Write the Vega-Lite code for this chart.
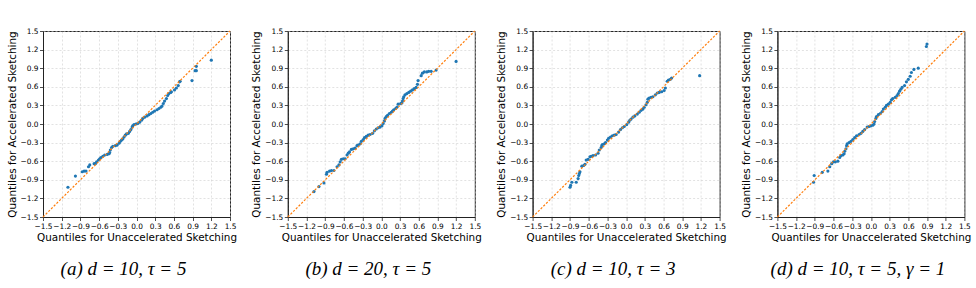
{
  "$schema": "https://vega.github.io/schema/vega-lite/v6.json",
  "background": "white",
  "padding": {"left": 6, "top": 26, "right": 0, "bottom": 0},
  "bounds": "flush",
  "spacing": 57.8,
  "datasets": {
    "diag": [{"x": -1.5, "y": -1.5}, {"x": 1.5, "y": 1.5}],
    "qq": [
      {"panel": "a", "x": -1.10, "y": -1.02}, {"panel": "a", "x": -0.98, "y": -0.84}, {"panel": "a", "x": -0.87, "y": -0.77},
      {"panel": "a", "x": -0.84, "y": -0.76}, {"panel": "a", "x": -0.81, "y": -0.76}, {"panel": "a", "x": -0.77, "y": -0.69},
      {"panel": "a", "x": -0.75, "y": -0.66}, {"panel": "a", "x": -0.68, "y": -0.64}, {"panel": "a", "x": -0.66, "y": -0.64},
      {"panel": "a", "x": -0.64, "y": -0.61}, {"panel": "a", "x": -0.61, "y": -0.58}, {"panel": "a", "x": -0.59, "y": -0.56},
      {"panel": "a", "x": -0.57, "y": -0.54}, {"panel": "a", "x": -0.54, "y": -0.52}, {"panel": "a", "x": -0.51, "y": -0.50},
      {"panel": "a", "x": -0.47, "y": -0.49}, {"panel": "a", "x": -0.44, "y": -0.48}, {"panel": "a", "x": -0.43, "y": -0.46},
      {"panel": "a", "x": -0.42, "y": -0.42}, {"panel": "a", "x": -0.40, "y": -0.38}, {"panel": "a", "x": -0.38, "y": -0.36},
      {"panel": "a", "x": -0.34, "y": -0.35}, {"panel": "a", "x": -0.31, "y": -0.34}, {"panel": "a", "x": -0.28, "y": -0.31},
      {"panel": "a", "x": -0.26, "y": -0.28}, {"panel": "a", "x": -0.24, "y": -0.26}, {"panel": "a", "x": -0.22, "y": -0.24},
      {"panel": "a", "x": -0.20, "y": -0.21}, {"panel": "a", "x": -0.18, "y": -0.18}, {"panel": "a", "x": -0.16, "y": -0.16},
      {"panel": "a", "x": -0.13, "y": -0.15}, {"panel": "a", "x": -0.11, "y": -0.12}, {"panel": "a", "x": -0.09, "y": -0.09},
      {"panel": "a", "x": -0.07, "y": -0.05}, {"panel": "a", "x": -0.06, "y": -0.03}, {"panel": "a", "x": -0.04, "y": -0.01},
      {"panel": "a", "x": -0.01, "y": 0.00}, {"panel": "a", "x": 0.02, "y": 0.01}, {"panel": "a", "x": 0.05, "y": 0.03},
      {"panel": "a", "x": 0.08, "y": 0.06}, {"panel": "a", "x": 0.10, "y": 0.09}, {"panel": "a", "x": 0.13, "y": 0.11},
      {"panel": "a", "x": 0.17, "y": 0.13}, {"panel": "a", "x": 0.20, "y": 0.15}, {"panel": "a", "x": 0.23, "y": 0.17},
      {"panel": "a", "x": 0.26, "y": 0.19}, {"panel": "a", "x": 0.29, "y": 0.21}, {"panel": "a", "x": 0.33, "y": 0.23},
      {"panel": "a", "x": 0.36, "y": 0.25}, {"panel": "a", "x": 0.39, "y": 0.27}, {"panel": "a", "x": 0.41, "y": 0.29},
      {"panel": "a", "x": 0.43, "y": 0.33}, {"panel": "a", "x": 0.45, "y": 0.37}, {"panel": "a", "x": 0.48, "y": 0.41},
      {"panel": "a", "x": 0.50, "y": 0.46}, {"panel": "a", "x": 0.52, "y": 0.49}, {"panel": "a", "x": 0.55, "y": 0.51},
      {"panel": "a", "x": 0.56, "y": 0.52}, {"panel": "a", "x": 0.61, "y": 0.55}, {"panel": "a", "x": 0.64, "y": 0.58},
      {"panel": "a", "x": 0.67, "y": 0.62}, {"panel": "a", "x": 0.69, "y": 0.68}, {"panel": "a", "x": 0.70, "y": 0.69},
      {"panel": "a", "x": 0.89, "y": 0.70}, {"panel": "a", "x": 0.94, "y": 0.86}, {"panel": "a", "x": 0.96, "y": 0.86},
      {"panel": "a", "x": 0.96, "y": 0.93}, {"panel": "a", "x": 1.20, "y": 1.03},

      {"panel": "b", "x": -1.08, "y": -1.09}, {"panel": "b", "x": -1.00, "y": -1.01}, {"panel": "b", "x": -0.92, "y": -0.95},
      {"panel": "b", "x": -0.88, "y": -0.81}, {"panel": "b", "x": -0.87, "y": -0.78}, {"panel": "b", "x": -0.83, "y": -0.76},
      {"panel": "b", "x": -0.80, "y": -0.75}, {"panel": "b", "x": -0.76, "y": -0.75}, {"panel": "b", "x": -0.71, "y": -0.69},
      {"panel": "b", "x": -0.68, "y": -0.66}, {"panel": "b", "x": -0.66, "y": -0.61}, {"panel": "b", "x": -0.64, "y": -0.57},
      {"panel": "b", "x": -0.61, "y": -0.56}, {"panel": "b", "x": -0.58, "y": -0.56}, {"panel": "b", "x": -0.55, "y": -0.50},
      {"panel": "b", "x": -0.53, "y": -0.47}, {"panel": "b", "x": -0.51, "y": -0.45}, {"panel": "b", "x": -0.48, "y": -0.41},
      {"panel": "b", "x": -0.45, "y": -0.40}, {"panel": "b", "x": -0.42, "y": -0.39}, {"panel": "b", "x": -0.39, "y": -0.35},
      {"panel": "b", "x": -0.37, "y": -0.34}, {"panel": "b", "x": -0.34, "y": -0.32}, {"panel": "b", "x": -0.32, "y": -0.28},
      {"panel": "b", "x": -0.29, "y": -0.25}, {"panel": "b", "x": -0.27, "y": -0.22}, {"panel": "b", "x": -0.24, "y": -0.20},
      {"panel": "b", "x": -0.21, "y": -0.18}, {"panel": "b", "x": -0.18, "y": -0.17}, {"panel": "b", "x": -0.14, "y": -0.15},
      {"panel": "b", "x": -0.11, "y": -0.11}, {"panel": "b", "x": -0.08, "y": -0.08}, {"panel": "b", "x": -0.05, "y": -0.06},
      {"panel": "b", "x": -0.02, "y": -0.05}, {"panel": "b", "x": 0.01, "y": -0.03}, {"panel": "b", "x": 0.03, "y": 0.01},
      {"panel": "b", "x": 0.05, "y": 0.05}, {"panel": "b", "x": 0.06, "y": 0.09}, {"panel": "b", "x": 0.08, "y": 0.12},
      {"panel": "b", "x": 0.10, "y": 0.14}, {"panel": "b", "x": 0.13, "y": 0.17}, {"panel": "b", "x": 0.16, "y": 0.19},
      {"panel": "b", "x": 0.18, "y": 0.21}, {"panel": "b", "x": 0.20, "y": 0.23}, {"panel": "b", "x": 0.23, "y": 0.25},
      {"panel": "b", "x": 0.25, "y": 0.27}, {"panel": "b", "x": 0.27, "y": 0.32}, {"panel": "b", "x": 0.31, "y": 0.33},
      {"panel": "b", "x": 0.33, "y": 0.34}, {"panel": "b", "x": 0.34, "y": 0.37}, {"panel": "b", "x": 0.35, "y": 0.41},
      {"panel": "b", "x": 0.36, "y": 0.44}, {"panel": "b", "x": 0.38, "y": 0.47}, {"panel": "b", "x": 0.41, "y": 0.49},
      {"panel": "b", "x": 0.44, "y": 0.51}, {"panel": "b", "x": 0.47, "y": 0.53}, {"panel": "b", "x": 0.50, "y": 0.55},
      {"panel": "b", "x": 0.53, "y": 0.57}, {"panel": "b", "x": 0.56, "y": 0.59}, {"panel": "b", "x": 0.58, "y": 0.64},
      {"panel": "b", "x": 0.59, "y": 0.70}, {"panel": "b", "x": 0.64, "y": 0.78}, {"panel": "b", "x": 0.66, "y": 0.82},
      {"panel": "b", "x": 0.69, "y": 0.84}, {"panel": "b", "x": 0.73, "y": 0.84}, {"panel": "b", "x": 0.76, "y": 0.85},
      {"panel": "b", "x": 0.80, "y": 0.85}, {"panel": "b", "x": 0.88, "y": 0.87}, {"panel": "b", "x": 1.20, "y": 1.01},

      {"panel": "c", "x": -0.90, "y": -1.02}, {"panel": "c", "x": -0.89, "y": -0.99}, {"panel": "c", "x": -0.87, "y": -0.94},
      {"panel": "c", "x": -0.80, "y": -0.94}, {"panel": "c", "x": -0.77, "y": -0.88}, {"panel": "c", "x": -0.76, "y": -0.83},
      {"panel": "c", "x": -0.75, "y": -0.80}, {"panel": "c", "x": -0.74, "y": -0.77}, {"panel": "c", "x": -0.71, "y": -0.68},
      {"panel": "c", "x": -0.68, "y": -0.67}, {"panel": "c", "x": -0.66, "y": -0.65}, {"panel": "c", "x": -0.64, "y": -0.58},
      {"panel": "c", "x": -0.61, "y": -0.57}, {"panel": "c", "x": -0.58, "y": -0.53}, {"panel": "c", "x": -0.56, "y": -0.52},
      {"panel": "c", "x": -0.53, "y": -0.51}, {"panel": "c", "x": -0.49, "y": -0.50}, {"panel": "c", "x": -0.45, "y": -0.47},
      {"panel": "c", "x": -0.43, "y": -0.42}, {"panel": "c", "x": -0.40, "y": -0.38}, {"panel": "c", "x": -0.39, "y": -0.35},
      {"panel": "c", "x": -0.38, "y": -0.33}, {"panel": "c", "x": -0.35, "y": -0.32}, {"panel": "c", "x": -0.33, "y": -0.30},
      {"panel": "c", "x": -0.30, "y": -0.26}, {"panel": "c", "x": -0.28, "y": -0.23}, {"panel": "c", "x": -0.25, "y": -0.21},
      {"panel": "c", "x": -0.22, "y": -0.19}, {"panel": "c", "x": -0.19, "y": -0.18}, {"panel": "c", "x": -0.16, "y": -0.17},
      {"panel": "c", "x": -0.12, "y": -0.13}, {"panel": "c", "x": -0.09, "y": -0.09}, {"panel": "c", "x": -0.06, "y": -0.06},
      {"panel": "c", "x": -0.03, "y": -0.04}, {"panel": "c", "x": 0.01, "y": -0.01}, {"panel": "c", "x": 0.04, "y": 0.03},
      {"panel": "c", "x": 0.06, "y": 0.06}, {"panel": "c", "x": 0.08, "y": 0.08}, {"panel": "c", "x": 0.11, "y": 0.11},
      {"panel": "c", "x": 0.14, "y": 0.13}, {"panel": "c", "x": 0.18, "y": 0.16}, {"panel": "c", "x": 0.21, "y": 0.19},
      {"panel": "c", "x": 0.24, "y": 0.22}, {"panel": "c", "x": 0.27, "y": 0.24}, {"panel": "c", "x": 0.29, "y": 0.27},
      {"panel": "c", "x": 0.32, "y": 0.31}, {"panel": "c", "x": 0.34, "y": 0.35}, {"panel": "c", "x": 0.35, "y": 0.40},
      {"panel": "c", "x": 0.37, "y": 0.42}, {"panel": "c", "x": 0.40, "y": 0.43}, {"panel": "c", "x": 0.43, "y": 0.44},
      {"panel": "c", "x": 0.47, "y": 0.47}, {"panel": "c", "x": 0.50, "y": 0.50}, {"panel": "c", "x": 0.53, "y": 0.51},
      {"panel": "c", "x": 0.57, "y": 0.52}, {"panel": "c", "x": 0.61, "y": 0.54}, {"panel": "c", "x": 0.63, "y": 0.58},
      {"panel": "c", "x": 0.66, "y": 0.69}, {"panel": "c", "x": 0.68, "y": 0.71}, {"panel": "c", "x": 0.71, "y": 0.72},
      {"panel": "c", "x": 0.73, "y": 0.74}, {"panel": "c", "x": 1.18, "y": 0.78},

      {"panel": "d", "x": -0.92, "y": -0.94}, {"panel": "d", "x": -0.91, "y": -0.83}, {"panel": "d", "x": -0.78, "y": -0.78},
      {"panel": "d", "x": -0.69, "y": -0.76}, {"panel": "d", "x": -0.66, "y": -0.69}, {"panel": "d", "x": -0.63, "y": -0.64},
      {"panel": "d", "x": -0.60, "y": -0.61}, {"panel": "d", "x": -0.57, "y": -0.61}, {"panel": "d", "x": -0.53, "y": -0.60},
      {"panel": "d", "x": -0.50, "y": -0.54}, {"panel": "d", "x": -0.48, "y": -0.51}, {"panel": "d", "x": -0.45, "y": -0.50},
      {"panel": "d", "x": -0.43, "y": -0.48}, {"panel": "d", "x": -0.42, "y": -0.44}, {"panel": "d", "x": -0.40, "y": -0.40},
      {"panel": "d", "x": -0.39, "y": -0.35}, {"panel": "d", "x": -0.38, "y": -0.32}, {"panel": "d", "x": -0.35, "y": -0.30},
      {"panel": "d", "x": -0.32, "y": -0.28}, {"panel": "d", "x": -0.29, "y": -0.25}, {"panel": "d", "x": -0.26, "y": -0.22},
      {"panel": "d", "x": -0.23, "y": -0.19}, {"panel": "d", "x": -0.19, "y": -0.17}, {"panel": "d", "x": -0.16, "y": -0.15},
      {"panel": "d", "x": -0.13, "y": -0.12}, {"panel": "d", "x": -0.10, "y": -0.09}, {"panel": "d", "x": -0.06, "y": -0.05},
      {"panel": "d", "x": -0.03, "y": -0.04}, {"panel": "d", "x": 0.00, "y": -0.03}, {"panel": "d", "x": 0.03, "y": -0.02},
      {"panel": "d", "x": 0.05, "y": 0.00}, {"panel": "d", "x": 0.06, "y": 0.04}, {"panel": "d", "x": 0.08, "y": 0.09},
      {"panel": "d", "x": 0.09, "y": 0.12}, {"panel": "d", "x": 0.12, "y": 0.15}, {"panel": "d", "x": 0.15, "y": 0.17},
      {"panel": "d", "x": 0.18, "y": 0.20}, {"panel": "d", "x": 0.20, "y": 0.24}, {"panel": "d", "x": 0.23, "y": 0.27},
      {"panel": "d", "x": 0.25, "y": 0.30}, {"panel": "d", "x": 0.28, "y": 0.32}, {"panel": "d", "x": 0.31, "y": 0.35},
      {"panel": "d", "x": 0.33, "y": 0.39}, {"panel": "d", "x": 0.35, "y": 0.41}, {"panel": "d", "x": 0.39, "y": 0.43},
      {"panel": "d", "x": 0.42, "y": 0.46}, {"panel": "d", "x": 0.44, "y": 0.49}, {"panel": "d", "x": 0.46, "y": 0.53},
      {"panel": "d", "x": 0.48, "y": 0.56}, {"panel": "d", "x": 0.50, "y": 0.59}, {"panel": "d", "x": 0.54, "y": 0.62},
      {"panel": "d", "x": 0.57, "y": 0.68}, {"panel": "d", "x": 0.60, "y": 0.72}, {"panel": "d", "x": 0.63, "y": 0.77},
      {"panel": "d", "x": 0.65, "y": 0.83}, {"panel": "d", "x": 0.69, "y": 0.88}, {"panel": "d", "x": 0.76, "y": 0.90},
      {"panel": "d", "x": 0.89, "y": 1.25}, {"panel": "d", "x": 0.90, "y": 1.29}
    ]
  },
  "hconcat": [
    {
      "width": 187, "height": 186,
      "title": {"text": "(a) d = 10, τ = 5"},
      "layer": [
        {
          "data": {"name": "qq"},
          "transform": [{"filter": "datum.panel == 'a'"}],
          "mark": {"type": "point", "filled": true, "size": 10, "color": "#1f77b4", "opacity": 1},
          "encoding": {
            "x": {"field": "x", "type": "quantitative", "scale": {"domain": [-1.5, 1.5], "nice": false, "zero": false},
                  "axis": {"title": "Quantiles for Unaccelerated Sketching", "tickCount": 11, "values": [-1.5, -1.2, -0.9, -0.6, -0.3, 0, 0.3, 0.6, 0.9, 1.2, 1.5]}},
            "y": {"field": "y", "type": "quantitative", "scale": {"domain": [-1.5, 1.5], "nice": false, "zero": false},
                  "axis": {"title": "Quantiles for Accelerated Sketching", "tickCount": 11, "values": [-1.5, -1.2, -0.9, -0.6, -0.3, 0, 0.3, 0.6, 0.9, 1.2, 1.5]}}
          }
        },
        {
          "data": {"name": "diag"},
          "mark": {"type": "line", "color": "#ff7f0e", "strokeWidth": 1.2, "strokeDash": [2.2, 1.6]},
          "encoding": {"x": {"field": "x", "type": "quantitative"}, "y": {"field": "y", "type": "quantitative"}}
        }
      ]
    },
    {
      "width": 187, "height": 186,
      "title": {"text": "(b) d = 20, τ = 5"},
      "layer": [
        {
          "data": {"name": "qq"},
          "transform": [{"filter": "datum.panel == 'b'"}],
          "mark": {"type": "point", "filled": true, "size": 10, "color": "#1f77b4", "opacity": 1},
          "encoding": {
            "x": {"field": "x", "type": "quantitative", "scale": {"domain": [-1.5, 1.5], "nice": false, "zero": false},
                  "axis": {"title": "Quantiles for Unaccelerated Sketching", "tickCount": 11, "values": [-1.5, -1.2, -0.9, -0.6, -0.3, 0, 0.3, 0.6, 0.9, 1.2, 1.5]}},
            "y": {"field": "y", "type": "quantitative", "scale": {"domain": [-1.5, 1.5], "nice": false, "zero": false},
                  "axis": {"title": "Quantiles for Accelerated Sketching", "tickCount": 11, "values": [-1.5, -1.2, -0.9, -0.6, -0.3, 0, 0.3, 0.6, 0.9, 1.2, 1.5]}}
          }
        },
        {
          "data": {"name": "diag"},
          "mark": {"type": "line", "color": "#ff7f0e", "strokeWidth": 1.2, "strokeDash": [2.2, 1.6]},
          "encoding": {"x": {"field": "x", "type": "quantitative"}, "y": {"field": "y", "type": "quantitative"}}
        }
      ]
    },
    {
      "width": 187, "height": 186,
      "title": {"text": "(c) d = 10, τ = 3"},
      "layer": [
        {
          "data": {"name": "qq"},
          "transform": [{"filter": "datum.panel == 'c'"}],
          "mark": {"type": "point", "filled": true, "size": 10, "color": "#1f77b4", "opacity": 1},
          "encoding": {
            "x": {"field": "x", "type": "quantitative", "scale": {"domain": [-1.5, 1.5], "nice": false, "zero": false},
                  "axis": {"title": "Quantiles for Unaccelerated Sketching", "tickCount": 11, "values": [-1.5, -1.2, -0.9, -0.6, -0.3, 0, 0.3, 0.6, 0.9, 1.2, 1.5]}},
            "y": {"field": "y", "type": "quantitative", "scale": {"domain": [-1.5, 1.5], "nice": false, "zero": false},
                  "axis": {"title": "Quantiles for Accelerated Sketching", "tickCount": 11, "values": [-1.5, -1.2, -0.9, -0.6, -0.3, 0, 0.3, 0.6, 0.9, 1.2, 1.5]}}
          }
        },
        {
          "data": {"name": "diag"},
          "mark": {"type": "line", "color": "#ff7f0e", "strokeWidth": 1.2, "strokeDash": [2.2, 1.6]},
          "encoding": {"x": {"field": "x", "type": "quantitative"}, "y": {"field": "y", "type": "quantitative"}}
        }
      ]
    },
    {
      "width": 187, "height": 186,
      "title": {"text": "(d) d = 10, τ = 5, γ = 1"},
      "layer": [
        {
          "data": {"name": "qq"},
          "transform": [{"filter": "datum.panel == 'd'"}],
          "mark": {"type": "point", "filled": true, "size": 10, "color": "#1f77b4", "opacity": 1},
          "encoding": {
            "x": {"field": "x", "type": "quantitative", "scale": {"domain": [-1.5, 1.5], "nice": false, "zero": false},
                  "axis": {"title": "Quantiles for Unaccelerated Sketching", "tickCount": 11, "values": [-1.5, -1.2, -0.9, -0.6, -0.3, 0, 0.3, 0.6, 0.9, 1.2, 1.5]}},
            "y": {"field": "y", "type": "quantitative", "scale": {"domain": [-1.5, 1.5], "nice": false, "zero": false},
                  "axis": {"title": "Quantiles for Accelerated Sketching", "tickCount": 11, "values": [-1.5, -1.2, -0.9, -0.6, -0.3, 0, 0.3, 0.6, 0.9, 1.2, 1.5]}}
          }
        },
        {
          "data": {"name": "diag"},
          "mark": {"type": "line", "color": "#ff7f0e", "strokeWidth": 1.2, "strokeDash": [2.2, 1.6]},
          "encoding": {"x": {"field": "x", "type": "quantitative"}, "y": {"field": "y", "type": "quantitative"}}
        }
      ]
    }
  ],
  "config": {
    "view": {"stroke": "#222", "strokeWidth": 1},
    "title": {
      "orient": "bottom", "anchor": "middle", "dx": -13, "offset": 17,
      "font": "Liberation Serif", "fontStyle": "italic", "fontWeight": "normal",
      "fontSize": 19, "color": "#000"
    },
    "axis": {
      "format": ".1f",
      "labelFont": "DejaVu Sans", "labelFontSize": 7.4, "labelColor": "#000",
      "labelOverlap": false, "labelFlush": false, "labelPadding": 1.5,
      "titleFont": "DejaVu Sans", "titleFontSize": 10.4, "titleFontWeight": "normal", "titleColor": "#000",
      "titlePadding": 3,
      "tickSize": 3.5, "tickColor": "#222", "tickWidth": 0.8,
      "domainColor": "#222", "domainWidth": 1,
      "grid": true, "gridColor": "#cfcfcf", "gridDash": [2, 2], "gridWidth": 0.6
    }
  }
}
